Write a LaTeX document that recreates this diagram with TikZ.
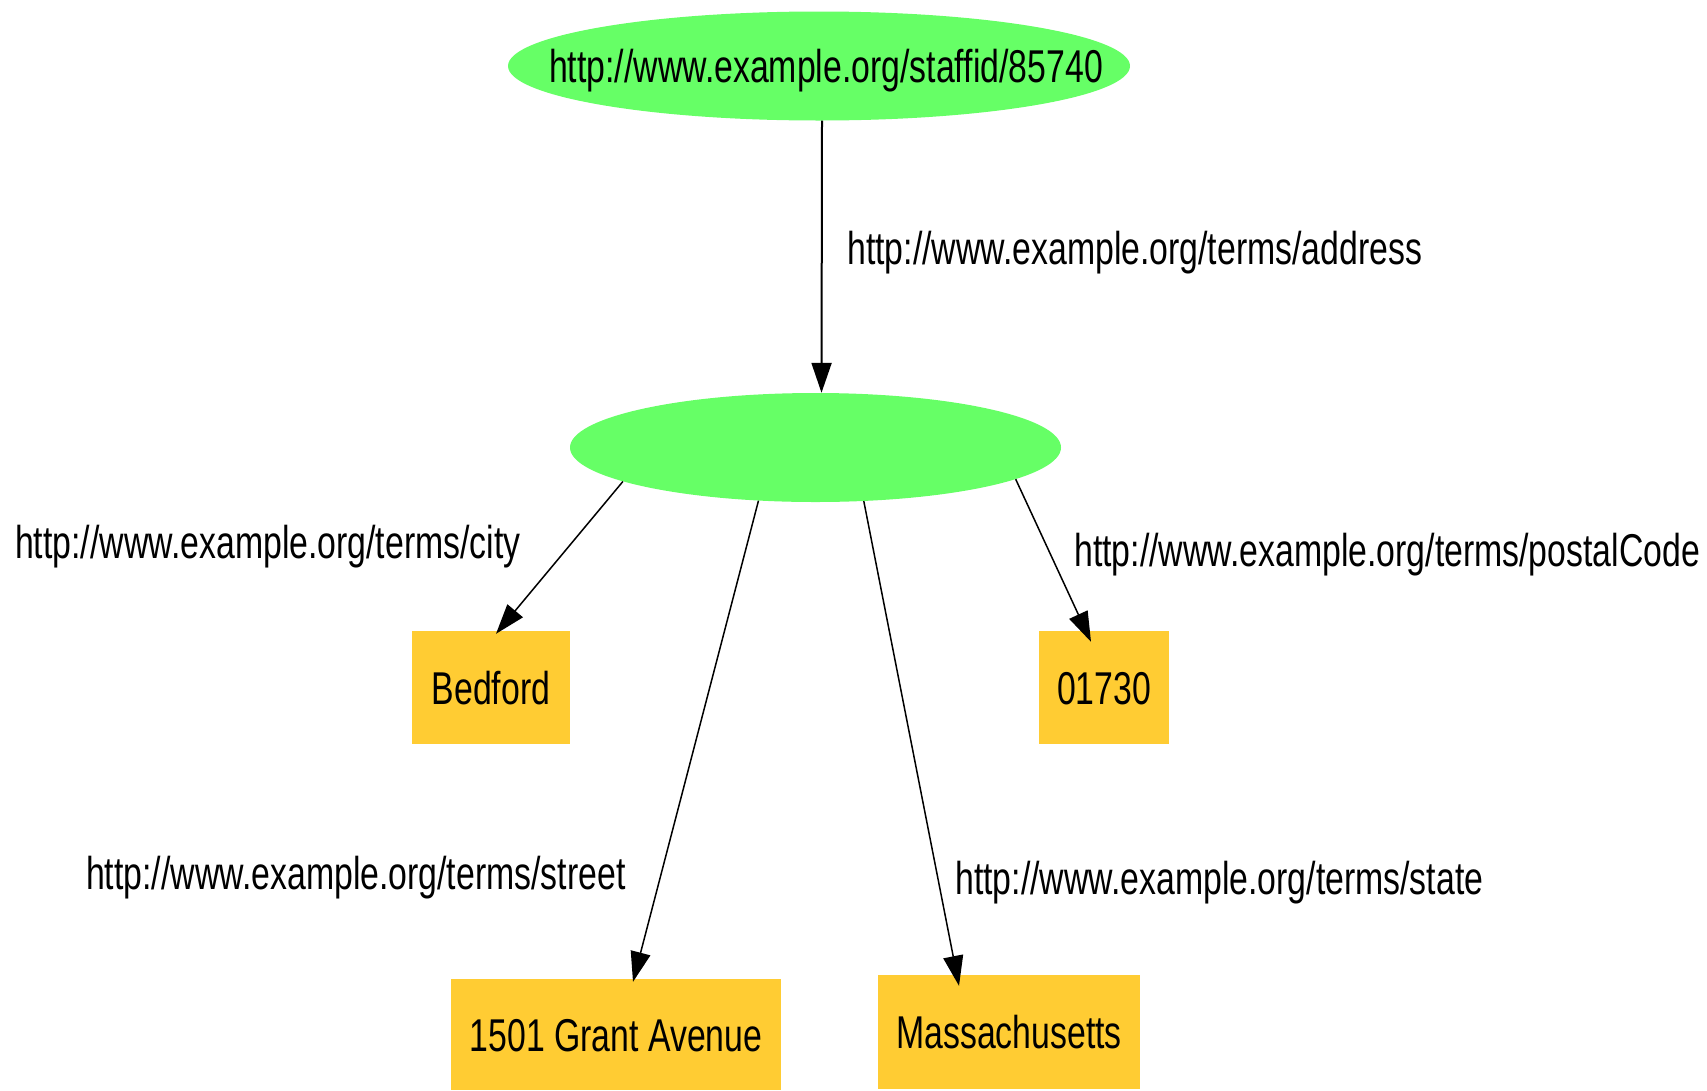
\documentclass[tikz,border=0pt]{standalone}
\usepackage{fontspec}
\newfontfamily\labfont[FakeStretch=0.735]{Liberation Sans}
\usetikzlibrary{shapes.geometric,arrows.meta,calc}
\definecolor{nodegreen}{HTML}{66FF66}
\definecolor{litorange}{HTML}{FFCC33}
\tikzset{
  resnode/.style={ellipse, fill=nodegreen, inner sep=0pt},
  litnode/.style={rectangle, fill=litorange, inner sep=0pt, text height=33pt, text depth=0pt},
  edgelabel/.style={anchor=base west, inner sep=0pt},
  edge/.style={line width=1.5pt, -{Triangle[length=30pt,width=20pt]}},
  every node/.style={font=\labfont\fontsize{46}{50}\selectfont}
}
\begin{document}
\begin{tikzpicture}[x=1pt,y=-1pt]
\useasboundingbox (0,0) rectangle (1707,1090);
\node[resnode, minimum width=622pt, minimum height=109pt] (top) at (819,66) {};
\node[inner sep=0pt, text height=33pt, text depth=0pt] (toptext) at ($(top.center)+(7,0)$) {http://www.example.org/staffid/85740};
\node[resnode, minimum width=491pt, minimum height=109pt] (mid) at (815.5,447.5) {};
\node[litnode, minimum width=158pt, minimum height=113pt] (bed) at (491,687.5) {Bedford};
\node[litnode, minimum width=130pt, minimum height=113pt] (zip) at (1104,687.5) {01730};
\node[litnode, minimum width=330pt, minimum height=111pt] (street) at (616,1034.5) {1501 Grant Avenue};
\node[litnode, minimum width=262pt, minimum height=114pt] (state) at (1009,1032) {Massachusetts};

\coordinate (topout) at ($(top.south)+(3,0)$);
\coordinate (midin) at ($(mid.north)+(6,0)$);
\draw[edge, line width=2pt] (topout) -- (midin);
\draw[edge] (mid.-170.8) -- ($(bed.north)+(5,3)$);
\draw[edge] (mid.-137.4) -- ($(street.north)+(17,3)$);
\draw[edge] (mid.-48.3) -- ($(state.north)+(-50,11)$);
\draw[edge] (mid.-9.85) -- ($(zip.north)+(-13,11)$);

\node[edgelabel] (laddr) at (847,264) {http://www.example.org/terms/address};
\node[edgelabel] (lcity) at (15,558) {http://www.example.org/terms/city};
\node[edgelabel] (lzip) at (1074,566) {http://www.example.org/terms/postalCode};
\node[edgelabel] (lstreet) at (86,889) {http://www.example.org/terms/street};
\node[edgelabel] (lstate) at (955,894) {http://www.example.org/terms/state};
\end{tikzpicture}
\end{document}
